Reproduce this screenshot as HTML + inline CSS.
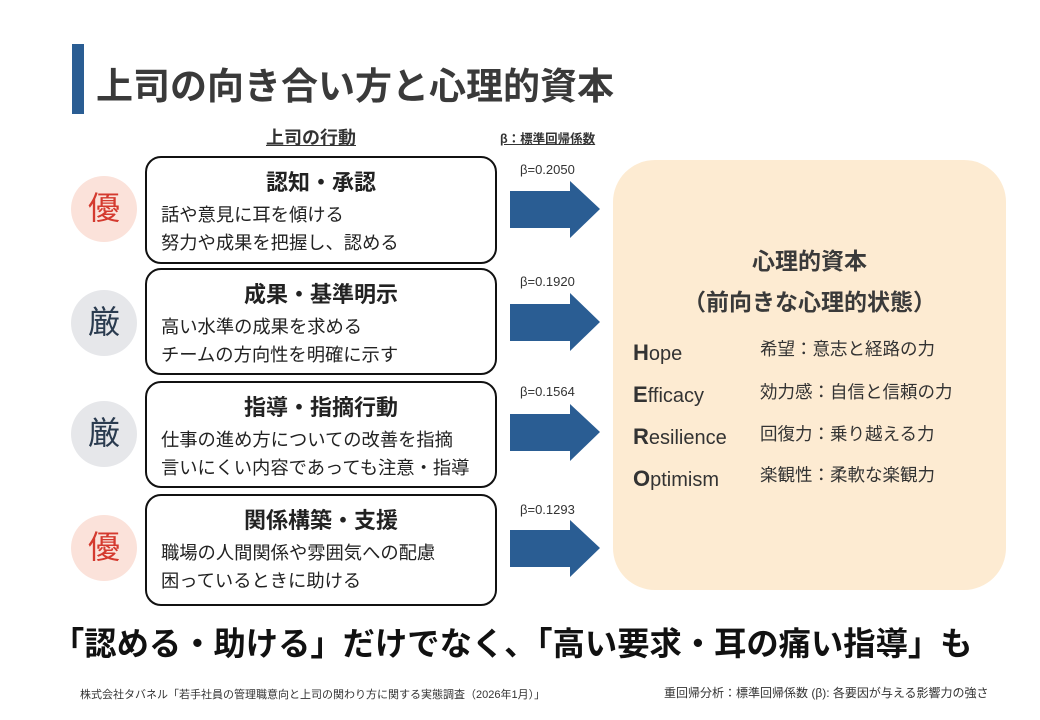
<!DOCTYPE html>
<html><head><meta charset="utf-8"><style>
body{margin:0;width:1040px;height:720px;background:#fff;position:relative;overflow:hidden;font-family:"Liberation Sans","Noto Sans CJK JP",sans-serif;color:#333}
div{position:absolute}
.box{left:145px;width:348px;border:2px solid #111;border-radius:16px;background:#fff}
.bt{position:absolute;left:0;right:0;text-align:center;font-weight:bold;font-size:22px;color:#222;top:7px;white-space:nowrap}
.bl{position:absolute;left:14px;font-size:18.3px;color:#222;white-space:nowrap}
.c{width:66px;height:66px;border-radius:50%;left:71px;text-align:center;line-height:64px;font-size:32px}
.y{background:#fbe2da;color:#d43a2f}.g{background:#e6e7ea;color:#2a3b4f}
.b{left:520px;font-size:13px;color:#333}
.p{font-size:20px;color:#333;left:633px}
.j{font-size:17.5px;color:#333;left:760px;white-space:nowrap}
</style></head><body>
<div style="left:72px;top:44px;width:12px;height:70px;background:#2a5d93"></div>
<div style="left:96px;top:56px;font-size:37px;font-weight:bold;color:#3a3a3a;white-space:nowrap">上司の向き合い方と心理的資本</div>
<div style="left:266px;top:124px;font-size:18px;font-weight:bold;text-decoration:underline;color:#333">上司の行動</div>
<div style="left:500px;top:128px;font-size:12.5px;font-weight:bold;text-decoration:underline;color:#333">β：標準回帰係数</div>

<div class="box" style="top:156px;height:104px"><div class="bt">認知・承認</div><div class="bl" style="top:43px">話や意見に耳を傾ける</div><div class="bl" style="top:71px">努力や成果を把握し、認める</div></div>
<div class="box" style="top:268px;height:103px"><div class="bt">成果・基準明示</div><div class="bl" style="top:43px">高い水準の成果を求める</div><div class="bl" style="top:71px">チームの方向性を明確に示す</div></div>
<div class="box" style="top:381px;height:103px"><div class="bt">指導・指摘行動</div><div class="bl" style="top:43px">仕事の進め方についての改善を指摘</div><div class="bl" style="top:71px">言いにくい内容であっても注意・指導</div></div>
<div class="box" style="top:494px;height:108px"><div class="bt">関係構築・支援</div><div class="bl" style="top:43px">職場の人間関係や雰囲気への配慮</div><div class="bl" style="top:71px">困っているときに助ける</div></div>

<div class="c y" style="top:176px">優</div>
<div class="c g" style="top:290px">厳</div>
<div class="c g" style="top:401px">厳</div>
<div class="c y" style="top:515px">優</div>

<div class="b" style="top:162px">β=0.2050</div>
<div class="b" style="top:274px">β=0.1920</div>
<div class="b" style="top:384px">β=0.1564</div>
<div class="b" style="top:502px">β=0.1293</div>
<svg style="position:absolute;left:0;top:0" width="1040" height="720">
<g fill="#2a5d93">
<polygon points="510,191 570,191 570,181 600,209 570,238 570,228 510,228"/>
<polygon points="510,304 570,304 570,293 600,322 570,351 570,341 510,341"/>
<polygon points="510,414 570,414 570,404 600,432 570,461 570,451 510,451"/>
<polygon points="510,530 570,530 570,520 600,548 570,577 570,567 510,567"/>
</g></svg>

<div style="left:613px;top:160px;width:393px;height:430px;background:#fdebd2;border-radius:42px"></div>
<div style="left:613px;top:242px;width:393px;text-align:center;font-size:23px;font-weight:bold;color:#3a3a3a">心理的資本</div>
<div style="left:613px;top:283px;width:393px;text-align:center;font-size:23px;font-weight:bold;color:#3a3a3a">（前向きな心理的状態）</div>
<div class="p" style="top:340px"><b style="font-size:22px">H</b>ope</div>
<div class="p" style="top:382px"><b style="font-size:22px">E</b>fficacy</div>
<div class="p" style="top:424px"><b style="font-size:22px">R</b>esilience</div>
<div class="p" style="top:466px"><b style="font-size:22px">O</b>ptimism</div>
<div class="j" style="top:336px">希望：意志と経路の力</div>
<div class="j" style="top:379px">効力感：自信と信頼の力</div>
<div class="j" style="top:421px">回復力：乗り越える力</div>
<div class="j" style="top:462px">楽観性：柔軟な楽観力</div>

<div style="left:52px;top:619px;font-size:32.3px;font-weight:bold;color:#111;white-space:nowrap">「認める・助ける」だけでなく、「高い要求・耳の痛い指導」も</div>
<div style="left:80px;top:686px;font-size:11px;color:#333;white-space:nowrap">株式会社タバネル「若手社員の管理職意向と上司の関わり方に関する実態調査（2026年1月）」</div>
<div style="left:664px;top:684px;font-size:12px;color:#333;white-space:nowrap">重回帰分析：標準回帰係数 (β): 各要因が与える影響力の強さ</div>
</body></html>
